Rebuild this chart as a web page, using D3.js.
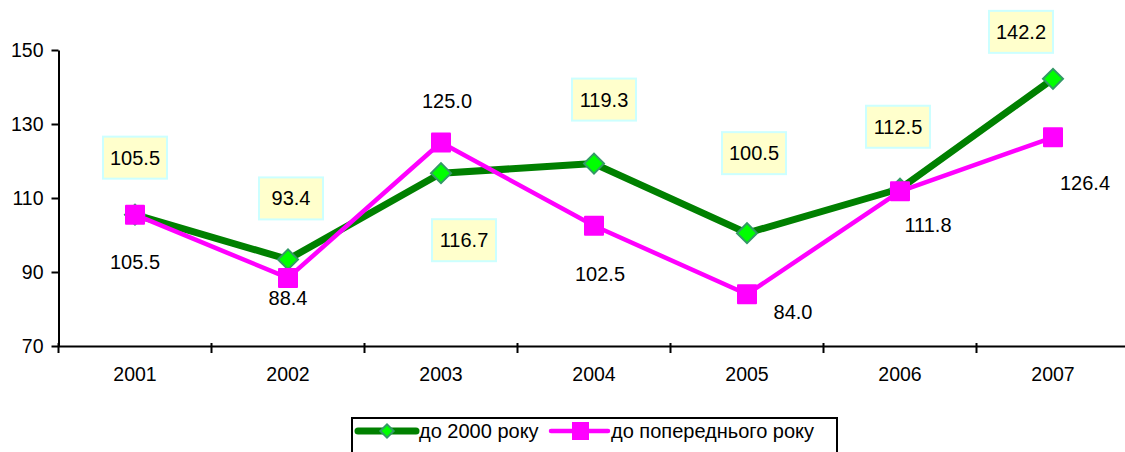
<!DOCTYPE html>
<html>
<head>
<meta charset="utf-8">
<script src="https://cdn.jsdelivr.net/npm/d3@7"></script>
<style>
  body { margin: 0; background: #fff; }
  svg { display: block; font-family: "Liberation Sans", Arial, sans-serif; }
</style>
</head>
<body>
<div id="chart"></div>
<script>
// data
const years = ["2001", "2002", "2003", "2004", "2005", "2006", "2007"];
const base2000 = [105.5, 93.4, 116.7, 119.3, 100.5, 112.5, 142.2];
const prevYear = [105.5, 88.4, 125.0, 102.5, 84.0, 111.8, 126.4];
const yTicks = [70, 90, 110, 130, 150];
const seriesNames = ["до 2000 року", "до попереднього року"];

// label offsets from the point (px), as placed in the original
const greenLabelOffsets = [[0, -57], [3, -61], [23, 67], [10, -64], [7, -80], [-2, -62], [-32, -47]];
const pinkLabelOffsets = [[0, 47], [0, 20], [6, -42], [6, 48], [46, 18], [28, 34], [32, 46]];

const width = 1125, height = 452;

const svg = d3.select("#chart").append("svg")
  .attr("width", width)
  .attr("height", height);

const x = d3.scaleBand()
  .domain(years)
  .range([58.5, 1129.5]);

const y = d3.scaleLinear()
  .domain([70, 150])
  .range([346, 50]);

const cx = (d, i) => x(years[i]) + x.bandwidth() / 2;

// y axis
const yAxis = svg.append("g")
  .attr("transform", "translate(" + x.range()[0] + ",0)")
  .call(d3.axisLeft(y).tickValues(yTicks).tickSize(7).tickSizeOuter(0).tickPadding(8));

// x axis
const xAxis = svg.append("g")
  .attr("transform", "translate(0," + y(70) + ")")
  .call(d3.axisBottom(x).tickSize(0).tickPadding(21));

xAxis.selectAll(".tick").append("line")
  .attr("x1", -x.bandwidth() / 2).attr("x2", -x.bandwidth() / 2)
  .attr("y1", -3).attr("y2", 7)
  .attr("stroke", "#000").attr("stroke-width", 2);

[yAxis, xAxis].forEach(g => {
  g.select(".domain").attr("stroke", "#000").attr("stroke-width", 2);
  g.selectAll(".tick line").attr("stroke", "#000").attr("stroke-width", 2);
  g.selectAll("text").attr("fill", "#000").style("font-size", "19.5px").style("font-family", "Liberation Sans, Arial, sans-serif");
});

const line = d3.line()
  .x(cx)
  .y(d => y(d));

// series: green first, pink on top
svg.append("path")
  .datum(base2000)
  .attr("d", line)
  .attr("fill", "none")
  .attr("stroke", "#008000")
  .attr("stroke-width", 7)
  .attr("stroke-linejoin", "round");

const diamond = d3.symbol().type(d3.symbolSquare).size(200);

svg.selectAll(".dia").data(base2000).enter().append("path")
  .attr("class", "dia")
  .attr("d", diamond)
  .attr("transform", (d, i) => "translate(" + cx(d, i) + "," + y(d) + ") rotate(45)")
  .attr("fill", "#00ff00")
  .attr("stroke", "#339966")
  .attr("stroke-width", 2);

svg.append("path")
  .datum(prevYear)
  .attr("d", line)
  .attr("fill", "none")
  .attr("stroke", "#ff00ff")
  .attr("stroke-width", 4.5)
  .attr("stroke-linejoin", "round");

svg.selectAll(".sq").data(prevYear).enter().append("rect")
  .attr("class", "sq")
  .attr("x", (d, i) => cx(d, i) - 10)
  .attr("y", d => y(d) - 10)
  .attr("width", 20)
  .attr("height", 20)
  .attr("rx", 1)
  .attr("fill", "#ff00ff");

// green labels in boxes
const gLab = svg.selectAll(".glab").data(base2000).enter().append("g")
  .attr("class", "glab")
  .attr("transform", (d, i) => "translate(" + (cx(d, i) + greenLabelOffsets[i][0]) + "," + (y(d) + greenLabelOffsets[i][1]) + ")");

gLab.append("rect")
  .attr("x", -32).attr("y", -21)
  .attr("width", 64).attr("height", 42)
  .attr("fill", "#ffffcc")
  .attr("stroke", "#ccffff")
  .attr("stroke-width", 2);

gLab.append("text")
  .attr("text-anchor", "middle")
  .attr("dy", "0.35em")
  .style("font-size", "20px")
  .text(d => d.toFixed(1));

// pink labels
svg.selectAll(".plab").data(prevYear).enter().append("text")
  .attr("class", "plab")
  .attr("x", (d, i) => cx(d, i) + pinkLabelOffsets[i][0])
  .attr("y", (d, i) => y(d) + pinkLabelOffsets[i][1])
  .attr("text-anchor", "middle")
  .attr("dy", "0.35em")
  .style("font-size", "20px")
  .text(d => d.toFixed(1));

// legend
const legend = svg.append("g").attr("transform", "translate(352,418)");
legend.append("rect")
  .attr("x", 0).attr("y", 0)
  .attr("width", 485).attr("height", 50)
  .attr("fill", "#fff")
  .attr("stroke", "#000")
  .attr("stroke-width", 2);

legend.append("line")
  .attr("x1", 6).attr("x2", 64).attr("y1", 13).attr("y2", 13)
  .attr("stroke", "#008000").attr("stroke-width", 7).attr("stroke-linecap", "round");
legend.append("path")
  .attr("d", d3.symbol().type(d3.symbolSquare).size(90))
  .attr("transform", "translate(35,13) rotate(45)")
  .attr("fill", "#00ff00").attr("stroke", "#339966").attr("stroke-width", 2);
legend.append("text")
  .attr("x", 67).attr("y", 13).attr("dy", "0.35em")
  .style("font-size", "20px")
  .text(seriesNames[0]);

legend.append("line")
  .attr("x1", 199).attr("x2", 256).attr("y1", 13).attr("y2", 13)
  .attr("stroke", "#ff00ff").attr("stroke-width", 4.5).attr("stroke-linecap", "round");
legend.append("rect")
  .attr("x", 220).attr("y", 4).attr("width", 17).attr("height", 18)
  .attr("fill", "#ff00ff");
legend.append("text")
  .attr("x", 259).attr("y", 13).attr("dy", "0.35em")
  .style("font-size", "20px")
  .text(seriesNames[1]);
</script>
</body>
</html>
